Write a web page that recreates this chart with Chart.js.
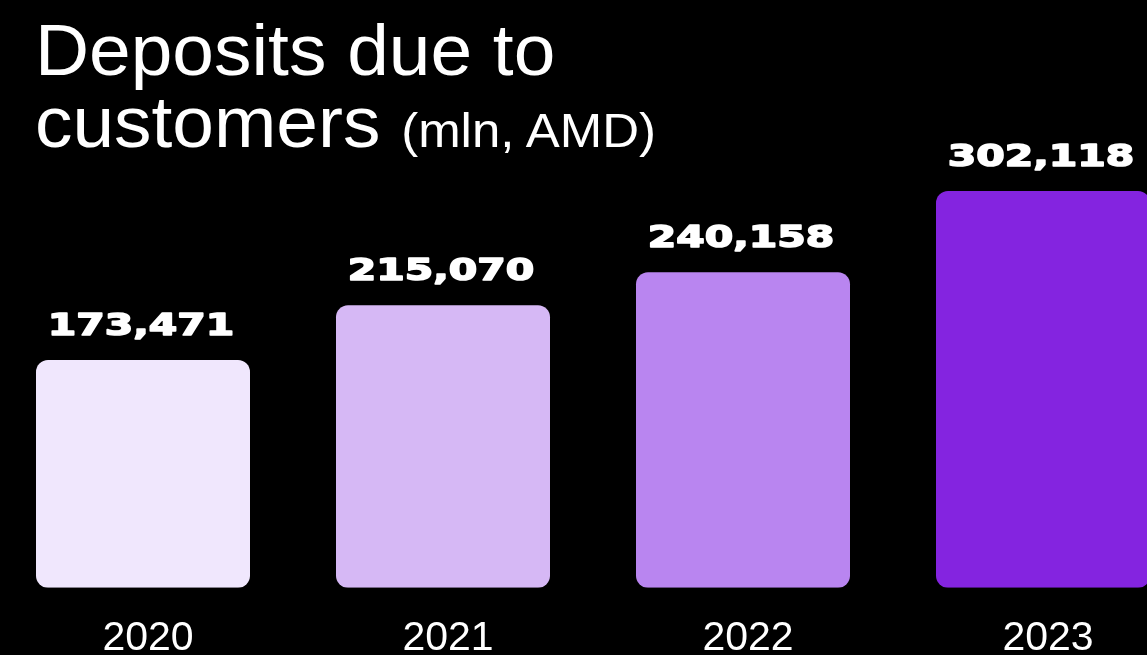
<!DOCTYPE html>
<html>
<head>
<meta charset="utf-8">
<script src="https://cdn.jsdelivr.net/npm/chart.js@4.4.0/dist/chart.umd.min.js"></script>
<style>
  html, body { margin: 0; padding: 0; background: #000; overflow: hidden; }
  body { width: 1147px; height: 655px; position: relative; }
  .heading {
    position: absolute; left: 35px; top: 14px;
    font-family: "Liberation Sans", Arial, Helvetica, sans-serif;
    color: #fff; font-size: 72px; line-height: 72px; white-space: nowrap;
    transform: scaleX(1.04); transform-origin: 0 0;
  }
  .heading small { font-size: 49px; }
  #wrap { position: absolute; left: -7px; top: 0; width: 1200px; height: 707px; }
</style>
</head>
<body>
<div class="heading">Deposits due to<br>customers <small>(mln, AMD)</small></div>
<div id="wrap"><canvas id="deposits"></canvas></div>
<script>
const years = ['2020', '2021', '2022', '2023'];
const deposits = [173471, 215070, 240158, 302118];
const barColors = ['#F0E7FD', '#D6B8F5', '#B985F0', '#8424E0'];

// value captions above each bar, wide heavy numerals
const valueLabels = {
  id: 'valueLabels',
  afterDatasetsDraw(chart) {
    const ctx = chart.ctx;
    const meta = chart.getDatasetMeta(0);
    ctx.save();
    ctx.fillStyle = '#fff';
    ctx.strokeStyle = '#fff';
    ctx.lineWidth = 1.6;
    ctx.lineJoin = 'round';
    ctx.font = 'bold 31px "DejaVu Sans", sans-serif';
    ctx.textAlign = 'center';
    ctx.textBaseline = 'alphabetic';
    meta.data.forEach((bar, i) => {
      const txt = deposits[i].toLocaleString('en-US');
      ctx.save();
      ctx.translate(bar.x - 2, bar.y - 25);
      ctx.scale(1.32, 1);
      ctx.fillText(txt, 0, 0);
      ctx.strokeText(txt, 0, 0);
      ctx.restore();
    });
    ctx.restore();
  }
};

new Chart(document.getElementById('deposits'), {
  type: 'bar',
  data: {
    labels: years,
    datasets: [{
      data: deposits,
      backgroundColor: barColors,
      borderRadius: 12,
      borderSkipped: false,
      barPercentage: 214 / 300,
      categoryPercentage: 1
    }]
  },
  options: {
    responsive: true,
    maintainAspectRatio: false,
    animation: false,
    layout: { padding: { top: 128, left: 0, right: 0, bottom: 18 } },
    plugins: { legend: { display: false }, tooltip: { enabled: false } },
    scales: {
      x: {
        grid: { display: false, drawTicks: false },
        border: { display: false },
        ticks: {
          color: '#fff',
          padding: 26,
          labelOffset: 5,
          font: { family: '"Liberation Sans", Arial, sans-serif', size: 41, lineHeight: 1.2 }
        }
      },
      y: { display: false, min: 0, max: 350000 }
    }
  },
  plugins: [valueLabels]
});
</script>
</body>
</html>
